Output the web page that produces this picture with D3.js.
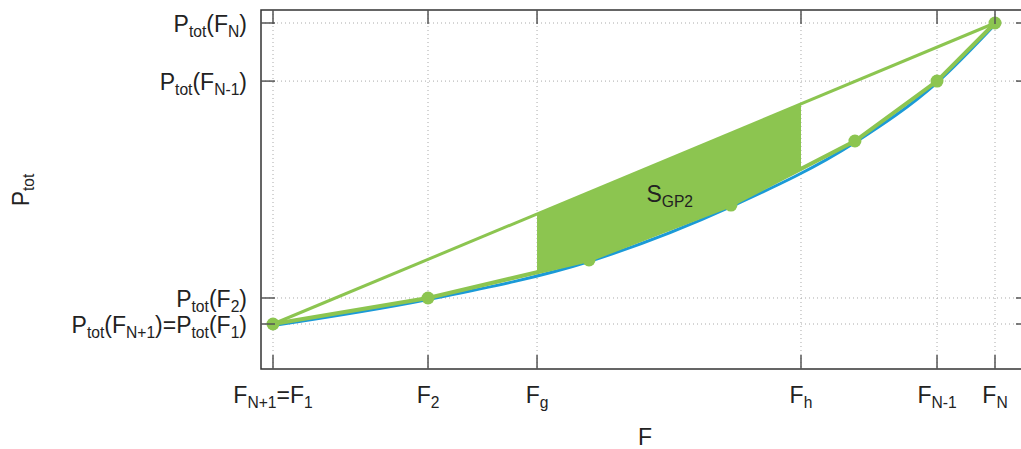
<!DOCTYPE html>
<html>
<head>
<meta charset="utf-8">
<script src="https://cdn.jsdelivr.net/npm/d3@7"></script>
<style>
  body { margin: 0; background: #fff; }
  svg text { font-family: "Liberation Sans", Arial, sans-serif; fill: #222; }
</style>
</head>
<body>
<div class="d3-wrapper"></div>
<script>
// normalized units: F1 -> 0, FN -> 1 ; Ptot(F1) -> 0, Ptot(FN) -> 1
const fTicks = [0, 0.2147, 0.3657, 0.7313, 0.9197, 1];
const fTickLabels = ['F_{N+1}=F_{1}', 'F_{2}', 'F_{g}', 'F_{h}', 'F_{N-1}', 'F_{N}'];
const pTicks = [0, 0.0864, 0.807, 1];
const pTickLabels = ['P_{tot}(F_{N+1})=P_{tot}(F_{1})', 'P_{tot}(F_{2})', 'P_{tot}(F_{N-1})', 'P_{tot}(F_{N})'];

const sampleF = [0, 0.2147, 0.4377, 0.6343, 0.806, 0.9197, 1];
const sampleP = [0, 0.0864, 0.2126, 0.395, 0.608, 0.807, 1];

const chordF = [0, 1];
const chordP = [0, 1];

const shadeFrom = 0.3657, shadeTo = 0.7313;

const GREEN = '#8cc550', BLUE = '#1b9ad7';
const FONT = 23;

const W = 1021, H = 449;
const FRAME = { left: 261, top: 10, right: 1030, bottom: 369 };

const xScale = d3.scaleLinear().domain([0, 1]).range([273, 995]);
const yScale = d3.scaleLinear().domain([0, 1]).range([324, 23]);

const svg = d3.select('.d3-wrapper').append('svg')
  .attr('width', W)
  .attr('height', H);

// writes "A_{b}" strings as text with subscript tspans
function richText(sel, str) {
  const parts = str.split(/(_\{[^}]*\})/).filter(s => s.length);
  let down = false;
  parts.forEach(p => {
    const sub = p.startsWith('_{');
    const t = sel.append('tspan').text(sub ? p.slice(2, -1) : p);
    if (sub) {
      t.attr('font-size', '0.68em').attr('dy', down ? null : '0.3em');
      down = true;
    } else if (down) {
      t.attr('dy', '-0.2em');
      down = false;
    }
  });
}

// grid
svg.append('g')
  .selectAll('line')
  .data(fTicks)
  .enter().append('line')
  .attr('x1', d => xScale(d)).attr('x2', d => xScale(d))
  .attr('y1', FRAME.top).attr('y2', FRAME.bottom)
  .attr('stroke', '#aaa').attr('stroke-dasharray', '1,3');
svg.append('g')
  .selectAll('line')
  .data(pTicks)
  .enter().append('line')
  .attr('y1', d => yScale(d)).attr('y2', d => yScale(d))
  .attr('x1', FRAME.left).attr('x2', FRAME.right)
  .attr('stroke', '#aaa').attr('stroke-dasharray', '1,3');

const samples = sampleF.map((f, i) => ({ f, p: sampleP[i] }));

// true curve
svg.append('path')
  .datum(samples)
  .attr('d', d3.line().x(d => xScale(d.f)).y(d => yScale(d.p) + 1.5).curve(d3.curveMonotoneX))
  .attr('fill', 'none').attr('stroke', BLUE).attr('stroke-width', 3);

// piecewise linear approximation
svg.append('path')
  .datum(samples)
  .attr('d', d3.line().x(d => xScale(d.f)).y(d => yScale(d.p)))
  .attr('fill', 'none').attr('stroke', GREEN).attr('stroke-width', 4);

// chord
svg.append('path')
  .datum(chordF.map((f, i) => ({ f, p: chordP[i] })))
  .attr('d', d3.line().x(d => xScale(d.f)).y(d => yScale(d.p)))
  .attr('fill', 'none').attr('stroke', GREEN).attr('stroke-width', 3);

svg.append('g')
  .selectAll('circle')
  .data(samples)
  .enter().append('circle')
  .attr('cx', d => xScale(d.f)).attr('cy', d => yScale(d.p))
  .attr('r', 6.5).attr('fill', GREEN);

// shaded area between chord and polyline
const lowerAt = f => {
  const i = Math.max(1, d3.bisectLeft(sampleF, f));
  const t = (f - sampleF[i - 1]) / (sampleF[i] - sampleF[i - 1]);
  return sampleP[i - 1] + t * (sampleP[i] - sampleP[i - 1]);
};
const chordAt = f => chordP[0] + (f - chordF[0]) / (chordF[1] - chordF[0]) * (chordP[1] - chordP[0]);
const shadeF = [shadeFrom, ...sampleF.filter(f => f > shadeFrom && f < shadeTo), shadeTo];
svg.append('path')
  .datum(shadeF)
  .attr('d', d3.area()
    .x(f => xScale(f))
    .y0(f => yScale(lowerAt(f)))
    .y1(f => yScale(chordAt(f))))
  .attr('fill', GREEN);

const sLabel = svg.append('text')
  .attr('x', xScale(0.5495)).attr('y', yScale(0.405))
  .attr('font-size', FONT).attr('text-anchor', 'middle');
richText(sLabel, 'S_{GP2}');

// frame
svg.append('rect')
  .attr('x', FRAME.left).attr('y', FRAME.top)
  .attr('width', FRAME.right - FRAME.left).attr('height', FRAME.bottom - FRAME.top)
  .attr('fill', 'none').attr('stroke', '#333').attr('stroke-width', 1.5);

// ticks on all four sides, pointing inward
const TICK = 14;
const ticks = svg.append('g').attr('stroke', '#555').attr('stroke-width', 1.5);
fTicks.forEach(f => {
  ticks.append('line').attr('x1', xScale(f)).attr('x2', xScale(f)).attr('y1', FRAME.bottom).attr('y2', FRAME.bottom - TICK);
  ticks.append('line').attr('x1', xScale(f)).attr('x2', xScale(f)).attr('y1', FRAME.top).attr('y2', FRAME.top + TICK);
});
pTicks.forEach(p => {
  ticks.append('line').attr('y1', yScale(p)).attr('y2', yScale(p)).attr('x1', FRAME.left).attr('x2', FRAME.left + TICK);
  ticks.append('line').attr('y1', yScale(p)).attr('y2', yScale(p)).attr('x1', FRAME.right).attr('x2', FRAME.right - TICK);
});

// tick labels
fTicks.forEach((f, i) => {
  const t = svg.append('text')
    .attr('x', xScale(f)).attr('y', 403)
    .attr('font-size', FONT).attr('text-anchor', 'middle');
  richText(t, fTickLabels[i]);
});
pTicks.forEach((p, i) => {
  const t = svg.append('text')
    .attr('x', 247).attr('y', yScale(p) + 9)
    .attr('font-size', FONT).attr('text-anchor', 'end');
  richText(t, pTickLabels[i]);
});

// axis titles
const yTitle = svg.append('text')
  .attr('transform', 'translate(29, 190) rotate(-90)')
  .attr('font-size', FONT).attr('text-anchor', 'middle');
richText(yTitle, 'P_{tot}');

svg.append('text')
  .attr('x', 645).attr('y', 445)
  .attr('font-size', FONT).attr('text-anchor', 'middle')
  .text('F');
</script>
</body>
</html>
